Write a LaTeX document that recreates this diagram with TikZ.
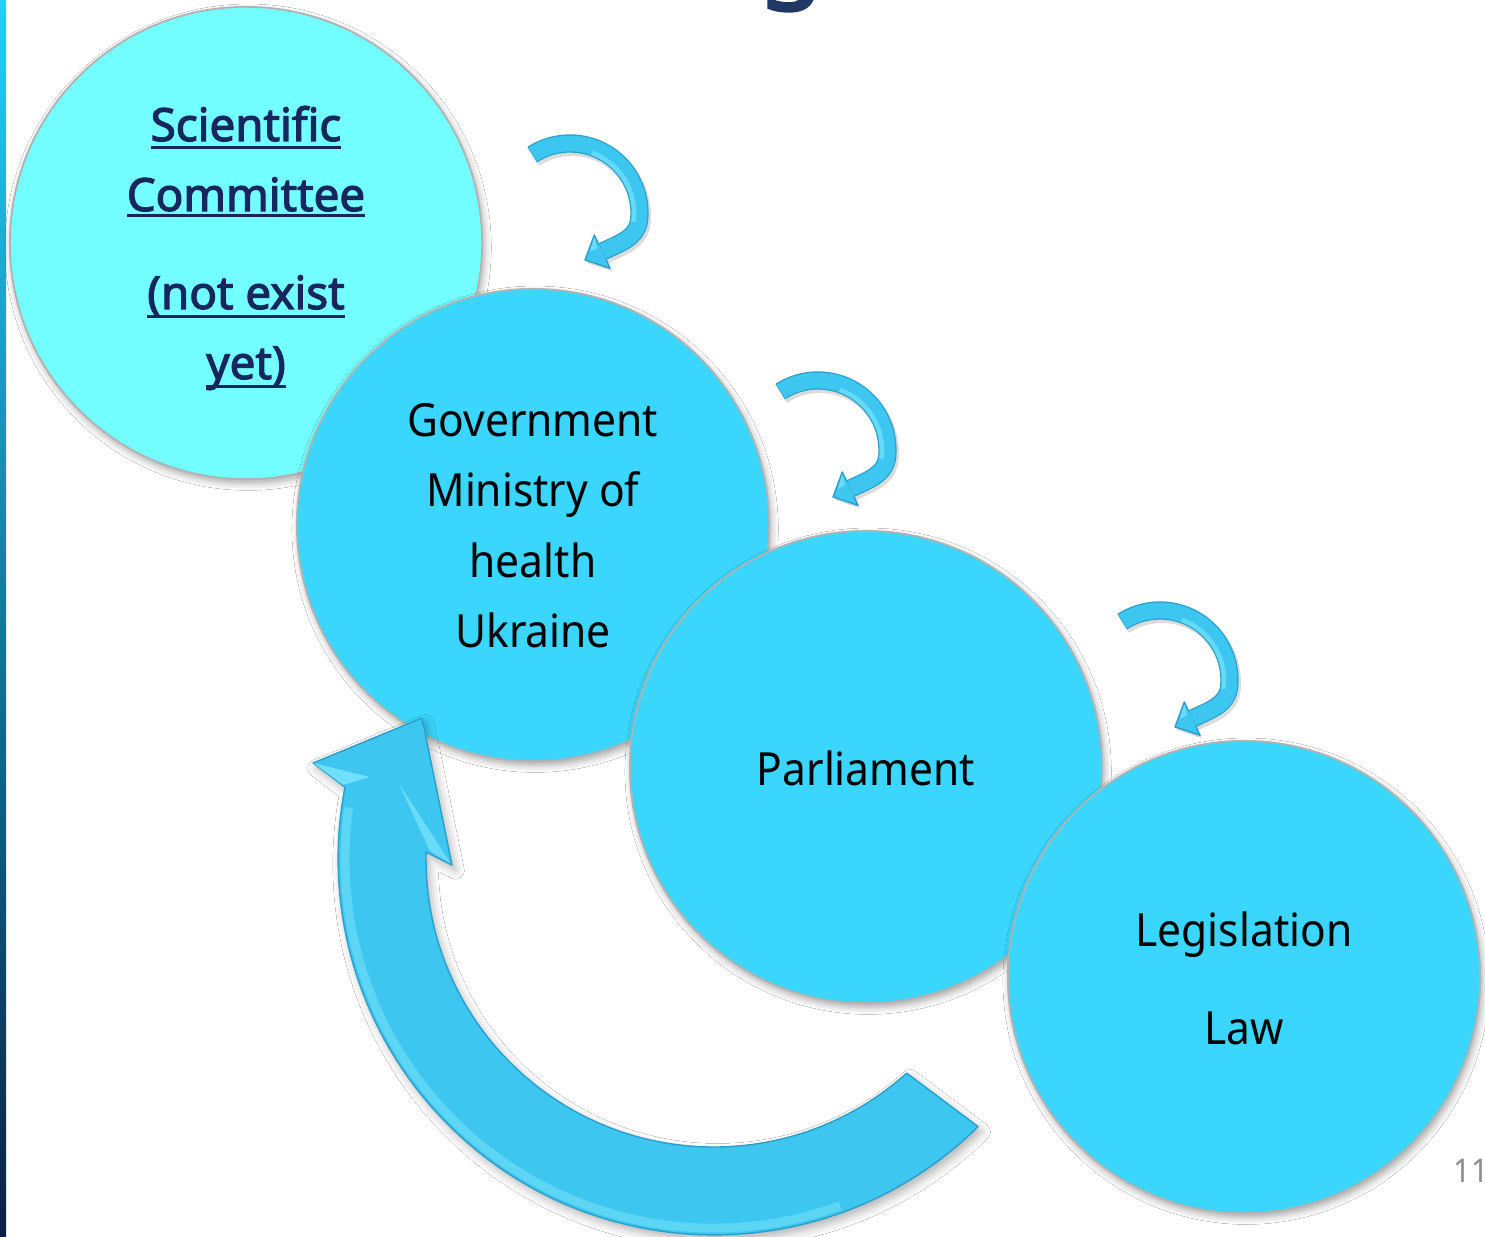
\documentclass[tikz,border=0pt]{standalone}
\usepackage{fontspec}
\setmainfont{Noto Sans}[FakeStretch=0.93]
\newfontfamily\strongface{Noto Sans}[FakeBold=2.6]
\usetikzlibrary{calc,shadows.blur}

\definecolor{titlenavy}{HTML}{1F3864}
\definecolor{navy}{HTML}{17265C}
\definecolor{paleaqua}{HTML}{73FFFF}
\definecolor{skyball}{HTML}{3AD6FD}
\definecolor{arrowblue}{HTML}{3CC6F0}
\definecolor{arrowedge}{HTML}{2B9FCB}
\definecolor{arrowlight}{HTML}{86EBFF}
\definecolor{stripetop}{HTML}{1CD3F3}
\definecolor{stripemid}{HTML}{0093D8}
\definecolor{stripebot}{HTML}{0B1E44}
\definecolor{pagegray}{HTML}{8C8C8C}

% underlined word: #1 = depth of the rule below the baseline, #2 = text
\newcommand\ulword[2]{\setbox0\hbox{#2}\rlap{\rule[-#1]{\wd0}{0.85pt}}\box0}

\tikzset{
  % curled arrow, drawn in its own local frame (origin = top left of its box)
  curlarrow/.pic={
    \draw[black, opacity=0.14, line width=5.4pt, shift={(2,3)}]
      ($(70,93)+(-123:69.5)$) arc[start angle=-123, end angle=5, radius=69.5]
      .. controls (137.5,118) and (120,123) .. (102.2,131.7);
    \draw[arrowedge, line width=5.2pt]
      ($(70,93)+(-123:69.5)$) arc[start angle=-123, end angle=5, radius=69.5]
      .. controls (137.5,118) and (120,123) .. (102.2,131.7);
    \draw[arrowblue, line width=4.5pt]
      ($(70,93)+(-122.5:69.5)$) arc[start angle=-122.5, end angle=5, radius=69.5]
      .. controls (137.5,118) and (120,123) .. (102.2,131.7);
    \draw[arrowlight, opacity=0.55, line width=1.3pt]
      ($(70,93)+(-70:64)$) arc[start angle=-70, end angle=8, radius=64];
    \fill[black, opacity=0.14, shift={(2,3)}] (94.3,115) -- (85,140) -- (110,148.3) -- cycle;
    \fill[arrowblue] (94.3,115) -- (85,140) -- (110,148.3) -- cycle;
    \fill[arrowlight, opacity=0.6] (94.3,115) -- (97,128) -- (90,132) -- cycle;
    \draw[arrowedge, line width=0.4pt, line join=round]
      (98.5,124) -- (94.3,115) -- (85,140) -- (110,148.3) -- (105.9,139.4);
  }
}

\begin{document}
\begin{tikzpicture}[x=0.01cm, y=-0.01cm,
  bubble/.style={circle, minimum size=4.72cm, inner sep=0pt,
    draw=black!30, line width=0.5pt,
    blur shadow={shadow xshift=0.6pt, shadow yshift=-1.2pt,
      shadow blur radius=2pt, shadow opacity=35}},
  plaintext/.style={font=\fontsize{13}{15}\selectfont, text=black,
    anchor=base, inner sep=0pt},
  strongtext/.style={font=\strongface\fontsize{13}{15}\selectfont,
    text=navy, anchor=base, inner sep=0pt},
]
\useasboundingbox (0,0) rectangle (1485,1237);
\fill[white] (0,0) rectangle (1485,1237);

% coloured band on the left edge
\shade[top color=stripetop, middle color=stripemid, bottom color=stripebot]
  (0,0) rectangle (6,1237);

% heading letter running in from above
\node[font=\strongface\fontsize{30}{30}\selectfont, text=titlenavy,
  anchor=south, inner sep=0pt] (headg) at (791,12) {g};

% the four circles
\node[bubble, fill=paleaqua] (sci)   at (246,243)  {};
\node[bubble, fill=skyball]  (gov)   at (533,525)  {};
\node[bubble, fill=skyball]  (parl)  at (866,767)  {};
\node[bubble, fill=skyball]  (legis) at (1244,977) {};

% circle texts
\node[strongtext] (sci1) at (246,141) {\ulword{2.2pt}{Scientific}};
\node[strongtext] (sci2) at (246,211) {\ulword{1.6pt}{Committee}};
\node[strongtext] (sci3) at (246,309) {\ulword{2.6pt}{(not exist}};
\node[strongtext] (sci4) at (246,379) {\ulword{2.6pt}{yet)}};

\node[plaintext] (gov1) at (533,437) {Government};
\node[plaintext] (gov2) at (533,507) {Ministry of};
\node[plaintext] (gov3) at (533,578) {health};
\node[plaintext] (gov4) at (533,648) {Ukraine};

\node[plaintext] (parl1) at (866,785) {Parliament};

\node[plaintext] (legis1) at (1244,946)  {Legislation};
\node[plaintext] (legis2) at (1244,1044) {Law};

% small curled arrows between consecutive circles
\pic (curlA) at (500,120) {curlarrow};
\pic (curlB) at (748,357) {curlarrow};
\pic (curlC) at (1090,587) {curlarrow};

% large return arrow from the law back to the ministry
\coordinate (ring) at (714,859);
\path[fill=arrowblue, draw=arrowedge, line width=0.4pt, line join=round,
  blur shadow={shadow xshift=1pt, shadow yshift=-1.5pt,
    shadow blur radius=2.5pt, shadow opacity=30}]
  (978.1,1126.6) arc[start angle=45.4, end angle=191, radius=376]
  -- (313,763) -- (422,718) -- (452,865) -- (426.1,852)
  arc[start angle=181.4, end angle=48, radius=288] -- cycle;
\draw[arrowlight, opacity=0.45, line width=2.5pt]
  ($(ring)+(70:369)$) arc[start angle=70, end angle=188, radius=369];
\fill[arrowlight, opacity=0.7] (313,763) -- (370,777) -- (343,785) -- cycle;
\fill[arrowlight, opacity=0.6] (398,782) -- (451,864) -- (430,851) -- cycle;

% slide number
\node[font=\fontsize{9.3}{10}\selectfont, text=pagegray, anchor=base,
  inner sep=0pt] (pageno) at (1471,1182) {11};
\end{tikzpicture}
\end{document}
